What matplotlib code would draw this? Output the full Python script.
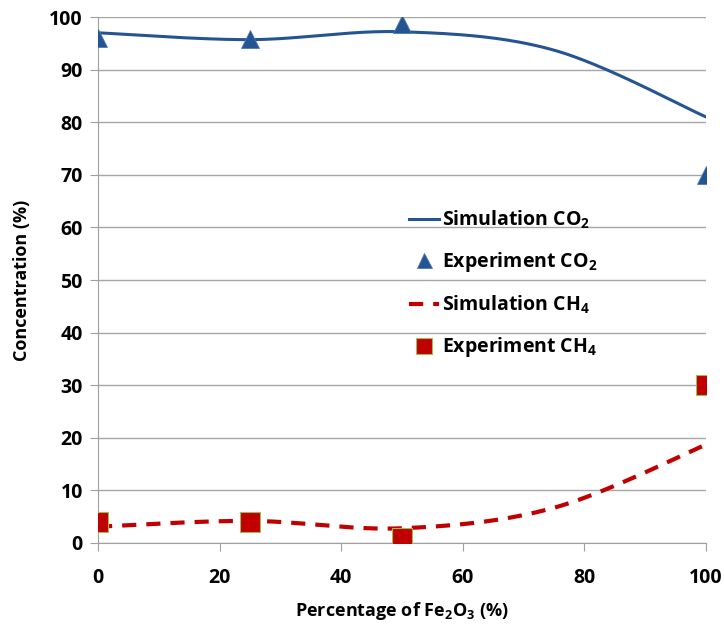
import numpy as np
import matplotlib
matplotlib.use('Agg')
import matplotlib.pyplot as plt

plt.rcParams['font.family'] = ['Open Sans', 'DejaVu Sans']
plt.rcParams['font.weight'] = 'bold'
plt.rcParams['mathtext.fontset'] = 'custom'
plt.rcParams['mathtext.rm'] = 'Open Sans:bold'
plt.rcParams['mathtext.it'] = 'Open Sans:bold'
plt.rcParams['mathtext.bf'] = 'Open Sans:bold'

# data
fe2o3 = [0, 25, 50, 75, 100]
sim_co2 = [97.0, 95.7, 97.2, 93.7, 81.0]
sim_ch4 = [3.1, 4.2, 2.8, 6.7, 18.7]

exp_x = [0, 25, 50, 100]
exp_co2 = [96.0, 95.8, 98.6, 70.0]
exp_ch4 = [4.0, 4.0, 1.0, 30.0]


def excel_smooth(x, y, n=40):
    # bezier smoothing like the spreadsheet "smoothed line" option
    p = np.column_stack([x, y]).astype(float)
    out = []
    for i in range(len(p) - 1):
        p0 = p[i - 1] if i > 0 else p[i]
        p3 = p[i + 2] if i + 2 < len(p) else p[i + 1]
        c1 = p[i] + (p[i + 1] - p0) / 6
        c2 = p[i + 1] - (p3 - p[i]) / 6
        t = np.linspace(0, 1, n)[:, None]
        seg = ((1 - t) ** 3 * p[i] + 3 * (1 - t) ** 2 * t * c1
               + 3 * (1 - t) * t ** 2 * c2 + t ** 3 * p[i + 1])
        out.append(seg if i == 0 else seg[1:])
    out = np.vstack(out)
    return out[:, 0], out[:, 1]


blue = '#255493'
red = '#C00000'

fig = plt.figure(figsize=(7.24, 6.26), dpi=100)
ax = fig.add_axes([0.1354, 0.1326, 0.8398, 0.8402])

sx, sy = excel_smooth(fe2o3, sim_co2)
ax.plot(sx, sy, color=blue, lw=2.2, label='Simulation CO$_2$', zorder=3)
ax.plot(exp_x, exp_co2, ls='none', marker='^', ms=13.5, color=blue,
        mec='#4a78b5', mew=0.6, label='Experiment CO$_2$', zorder=4)
sx, sy = excel_smooth(fe2o3, sim_ch4)
ax.plot(sx, sy, color=red, lw=3, ls=(0, (3.4, 2.4)), label='Simulation CH$_4$', zorder=3)
ax.plot(exp_x, exp_ch4, ls='none', marker='s', ms=14, color=red,
        mec='#9BBB59', mew=0.8, label='Experiment CH$_4$', zorder=4)

ax.set_xlim(0, 100)
ax.set_ylim(0, 100)
ax.set_xticks(range(0, 101, 20))
ax.set_yticks(range(0, 101, 10))
ax.grid(axis='y', color='#a6a6a6', lw=1)
ax.set_axisbelow(True)
for s in ['top', 'right']:
    ax.spines[s].set_visible(False)
for s in ['left', 'bottom']:
    ax.spines[s].set_color('#a0a0a0')
ax.tick_params(axis='x', length=6, color='#a0a0a0', labelsize=14, pad=12)
ax.tick_params(axis='y', length=6, color='#a0a0a0', labelsize=14, pad=5)
ax.margins(0)
for lab in ax.get_xticklabels() + ax.get_yticklabels():
    lab.set_fontweight('bold')

ax.set_xlabel('Percentage of Fe$_2$O$_3$ (%)', fontsize=13, fontweight='bold', labelpad=9)
ax.set_ylabel('Concentration (%)', fontsize=13, fontweight='bold', labelpad=13)

leg = ax.legend(loc='upper left', bbox_to_anchor=(0.512, 0.636), frameon=False,
                fontsize=14, handlelength=1.55, handletextpad=0.15,
                labelspacing=1.0, markerscale=0.8,
                borderpad=0, borderaxespad=0)

plt.savefig('out.png', dpi=100)
plt.close()
